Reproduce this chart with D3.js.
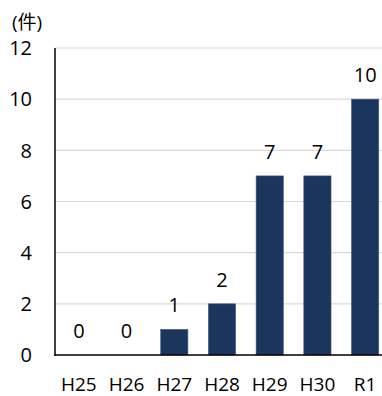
<!DOCTYPE html>
<html>
<head>
<meta charset="utf-8">
<script src="https://cdn.jsdelivr.net/npm/d3@7"></script>
<style>
  html, body { margin: 0; padding: 0; background: #fff; }
  svg { display: block; }
  text { font-family: "Open Sans", "Noto Sans CJK JP", sans-serif; fill: #000; }
</style>
</head>
<body>
<svg id="chart" width="382" height="396"></svg>
<script>
// Annual counts by fiscal year
const categories = ["H25", "H26", "H27", "H28", "H29", "H30", "R1"];
const counts = [0, 0, 1, 2, 7, 7, 10];
const yTicks = [0, 2, 4, 6, 8, 10, 12];
const unitLabel = "(件)";

const svg = d3.select("#chart");
const x = d3.scaleBand().domain(categories).range([55, 389]).paddingInner(0.43).paddingOuter(0.215);
const y = d3.scaleLinear().domain([0, 12]).range([355, 48]);

// horizontal grid
svg.append("g")
  .selectAll("line")
  .data(yTicks.filter(d => d > 0))
  .join("line")
  .attr("x1", 55).attr("x2", 382)
  .attr("y1", d => y(d)).attr("y2", d => y(d))
  .attr("stroke", "#d9d9d9").attr("stroke-width", 1.2);

// y tick labels
svg.append("g")
  .selectAll("text")
  .data(yTicks)
  .join("text")
  .attr("x", 32)
  .attr("y", d => y(d))
  .attr("dy", "0.36em")
  .attr("text-anchor", "end")
  .attr("font-size", 20)
  .text(d => d);

// unit label
svg.append("text")
  .attr("x", 12).attr("y", 29)
  .attr("font-size", 19)
  .text(unitLabel);

// bars
svg.append("g")
  .selectAll("rect")
  .data(counts)
  .join("rect")
  .attr("x", (d, i) => x(categories[i]))
  .attr("width", x.bandwidth())
  .attr("y", d => y(d))
  .attr("height", d => y(0) - y(d))
  .attr("fill", "#1a365d")
  .attr("stroke", "#3f5a80")
  .attr("stroke-width", 0.6);

// value labels
svg.append("g")
  .selectAll("text")
  .data(counts)
  .join("text")
  .attr("x", (d, i) => x(categories[i]) + x.bandwidth() / 2)
  .attr("y", d => y(d) - 17)
  .attr("text-anchor", "middle")
  .attr("font-size", 20)
  .text(d => d);

// axes lines
svg.append("line")
  .attr("x1", 55).attr("x2", 55).attr("y1", 48).attr("y2", 355.5)
  .attr("stroke", "#000").attr("stroke-width", 1.5);
svg.append("line")
  .attr("x1", 54).attr("x2", 382).attr("y1", 355).attr("y2", 355)
  .attr("stroke", "#000").attr("stroke-width", 1.5);

// category labels
svg.append("g")
  .selectAll("text")
  .data(categories)
  .join("text")
  .attr("x", d => x(d) + x.bandwidth() / 2)
  .attr("y", 390.5)
  .attr("text-anchor", "middle")
  .attr("font-size", 19)
  .text(d => d);
</script>
</body>
</html>
